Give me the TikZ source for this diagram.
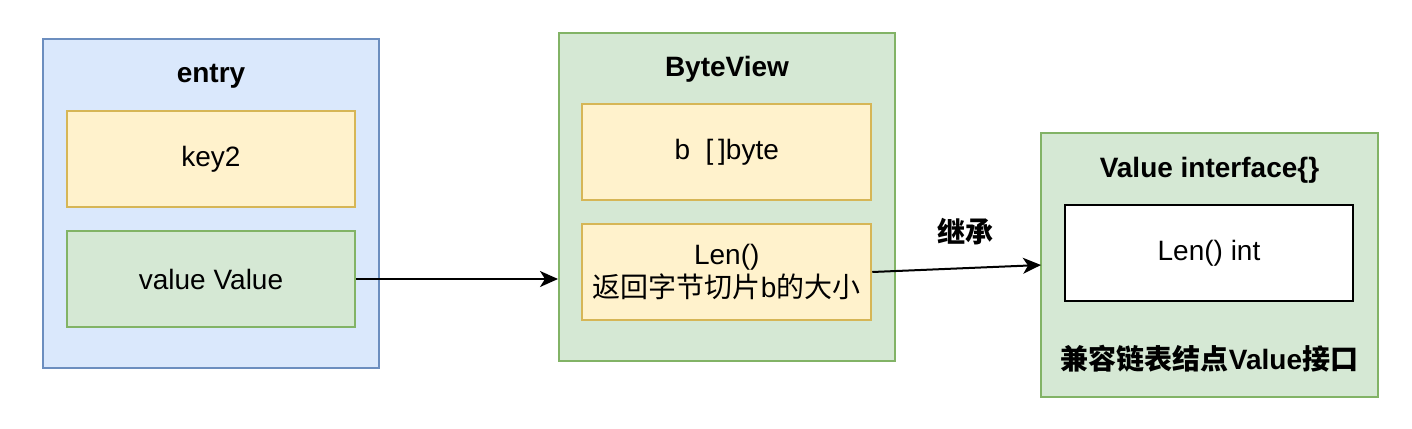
\documentclass[tikz,border=0pt]{standalone}
\usepackage{fontspec}
\setmainfont{Liberation Sans}
\newfontfamily\cjk{Noto Sans CJK SC}
\usetikzlibrary{arrows.meta}
\definecolor{bluefill}{HTML}{DAE8FC}
\definecolor{bluedraw}{HTML}{6C8EBF}
\definecolor{greenfill}{HTML}{D5E8D4}
\definecolor{greendraw}{HTML}{82B366}
\definecolor{yellowfill}{HTML}{FFF2CC}
\definecolor{yellowdraw}{HTML}{D6B656}
\tikzset{
  base/.style={rectangle, inner sep=0pt, line width=1pt, font=\fontsize{14pt}{16.5pt}\selectfont, align=center},
  bluebox/.style={base, fill=bluefill, draw=bluedraw},
  greenbox/.style={base, fill=greenfill, draw=greendraw},
  yellowbox/.style={base, fill=yellowfill, draw=yellowdraw},
  whitebox/.style={base, fill=white, draw=black},
  title/.style={inner sep=0pt, font=\fontsize{14pt}{16.5pt}\selectfont\bfseries},
  conn/.style={line width=1pt, -{Stealth[length=9pt,width=8pt,inset=2.5pt]}},
}
\begin{document}
\begin{tikzpicture}[x=0.5pt,y=-0.5pt]
\useasboundingbox (0,0) rectangle (1412,428);
% entry
\node[bluebox, minimum width=168pt, minimum height=164.5pt] (entry) at (211,203.5) {};
\node[title] (entryt) at (211,76) {entry};
\node[yellowbox, minimum width=144pt, minimum height=48pt] (key) at (211,159) {key2};
\node[greenbox, minimum width=144pt, minimum height=48pt] (val) at (211,279) {value Value};
% ByteView
\node[greenbox, minimum width=168pt, minimum height=164pt] (bv) at (727,196.5) {};
\node[title] (bvt) at (727,69) {ByteView};
\node[yellowbox, minimum width=144.5pt, minimum height=48pt] (bb) at (726.75,152) {b\ \ [\,]byte};
\node[yellowbox, minimum width=144.5pt, minimum height=48pt] (len) at (726.75,272) {Len()\\{\cjk 返回字节切片}b{\cjk 的大小}};
% Value interface
\node[greenbox, minimum width=168.5pt, minimum height=132pt] (vi) at (1209.5,264.5) {};
\node[title] (vit) at (1209.5,170) {Value interface\{\}};
\node[whitebox, minimum width=144pt, minimum height=48pt] (li) at (1209,253) {Len() int};
\node[title] (vib) at (1209.5,359) {{\cjk 兼容链表结点}Value{\cjk 接口}};
% connectors
\draw[conn] (val.east) -- (bv.west |- val.east);
\coordinate (viin) at (1041,265);
\draw[conn] (len.east) -- (viin);
\node[title] (inh) at (965,232) {\cjk 继承};
\end{tikzpicture}
\end{document}
